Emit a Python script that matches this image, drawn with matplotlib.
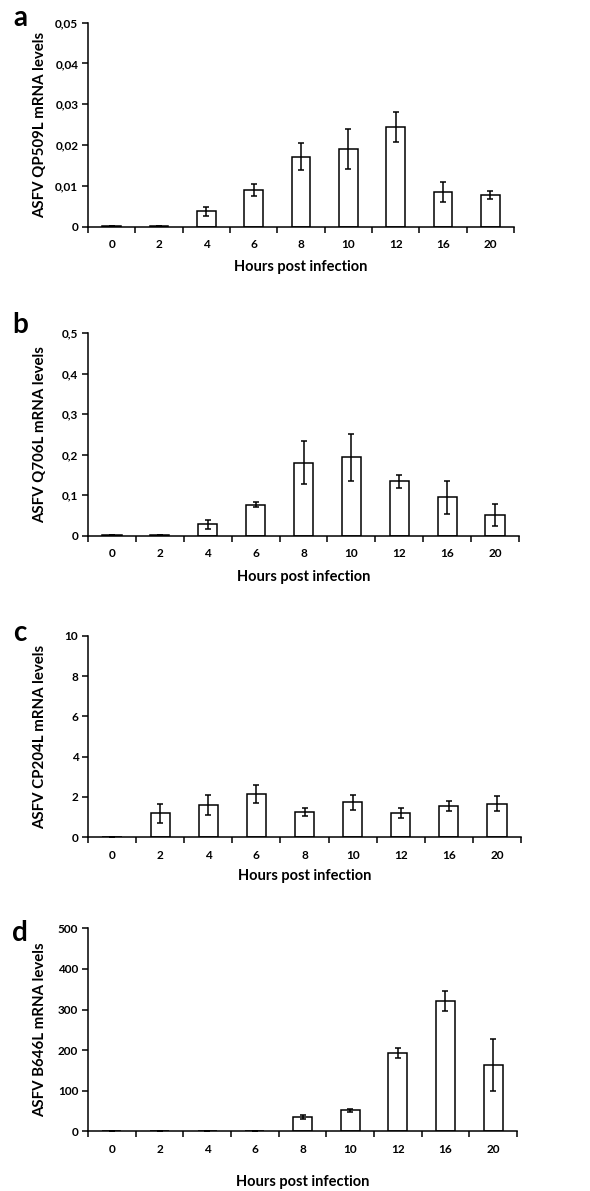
import numpy as np
import matplotlib
matplotlib.use("Agg")
import matplotlib.pyplot as plt
from matplotlib.ticker import FuncFormatter

plt.rcParams['font.family'] = ['Lato', 'DejaVu Sans']
plt.rcParams['font.weight'] = 'bold'

hours = ['0', '2', '4', '6', '8', '10', '12', '16', '20']

# a - QP509L
qp509l = [0.0001, 0.0002, 0.0038, 0.0090, 0.0171, 0.0190, 0.0244, 0.0085, 0.0078]
qp509l_err = [0.0, 0.0, 0.0011, 0.0015, 0.0033, 0.0049, 0.0036, 0.0024, 0.0010]

# b - Q706L
q706l = [0.001, 0.001, 0.028, 0.077, 0.180, 0.194, 0.134, 0.095, 0.052]
q706l_err = [0.0, 0.0, 0.011, 0.006, 0.053, 0.058, 0.015, 0.041, 0.027]

# c - CP204L
cp204l = [0.02, 1.19, 1.60, 2.13, 1.26, 1.74, 1.19, 1.54, 1.67]
cp204l_err = [0.0, 0.46, 0.49, 0.45, 0.18, 0.37, 0.24, 0.26, 0.36]

# d - B646L
b646l = [0.5, 0.5, 0.5, 1.0, 36.0, 51.5, 193.0, 321.0, 163.0]
b646l_err = [0.0, 0.0, 0.0, 0.0, 5.0, 3.0, 13.0, 24.0, 64.0]

panels = [
    ('a', 'ASFV QP509L mRNA levels', qp509l, qp509l_err, 0.05, 0.01),
    ('b', 'ASFV Q706L mRNA levels', q706l, q706l_err, 0.5, 0.1),
    ('c', 'ASFV CP204L mRNA levels', cp204l, cp204l_err, 10, 2),
    ('d', 'ASFV B646L mRNA levels', b646l, b646l_err, 500, 100),
]

W, H = 590, 1191
# axes boxes in pixels: left, right, top, bottom
boxes = [(88, 514, 22.7, 226.7), (88, 519, 333.3, 535.7),
         (88, 521, 635.7, 837.3), (88, 517, 928.3, 1131.3)]
letter_y = [18, 325, 633, 933]
xlabel_y = [267, 577, 876, 1182]

fig = plt.figure(figsize=(W / 100, H / 100), dpi=100)

def fmt(v, pos):
    s = f"{v:g}"
    return s.replace('.', ',')

x = np.arange(len(hours))
for i, (letter, ylab, vals, errs, ymax, step) in enumerate(panels):
    l, r, t, b = boxes[i]
    ax = fig.add_axes([l / W, 1 - b / H, (r - l) / W, (b - t) / H])
    ax.bar(x, vals, width=0.4, color='white', edgecolor='black', linewidth=1.1,
           yerr=errs, capsize=2.5, error_kw=dict(elinewidth=1.1, capthick=1.1, ecolor='black'))
    ax.set_xlim(-0.5, len(hours) - 0.5)
    ax.set_ylim(0, ymax)
    ax.set_yticks(np.arange(0, ymax + step / 2, step))
    ax.yaxis.set_major_formatter(FuncFormatter(fmt))
    ax.set_xticks(x)
    ax.set_xticklabels(hours)
    ax.set_xticks(np.arange(-0.5, len(hours), 1), minor=True)
    ax.tick_params(axis='x', which='major', length=0, pad=9, labelsize=8.5)
    ax.tick_params(axis='x', which='minor', length=4, width=1.1, direction='out')
    ax.tick_params(axis='y', length=4, width=1.1, labelsize=8.5, pad=3)
    for s in ['top', 'right']:
        ax.spines[s].set_visible(False)
    for s in ['left', 'bottom']:
        ax.spines[s].set_linewidth(1.1)
    ax.set_ylabel(ylab, fontsize=10.8, fontweight='bold')
    ax.yaxis.set_label_coords((47 - l) / (r - l), 0.5)
    ax.set_xlabel('Hours post infection', fontsize=10.5, fontweight='bold')
    ax.xaxis.set_label_coords(0.5, -(xlabel_y[i] - b) / (b - t))
    ax.xaxis.label.set_va('center')
    fig.text(20 / W, 1 - letter_y[i] / H, letter, fontsize=20, fontweight='bold',
             ha='center', va='center')

fig.savefig('out.png', dpi=100)
